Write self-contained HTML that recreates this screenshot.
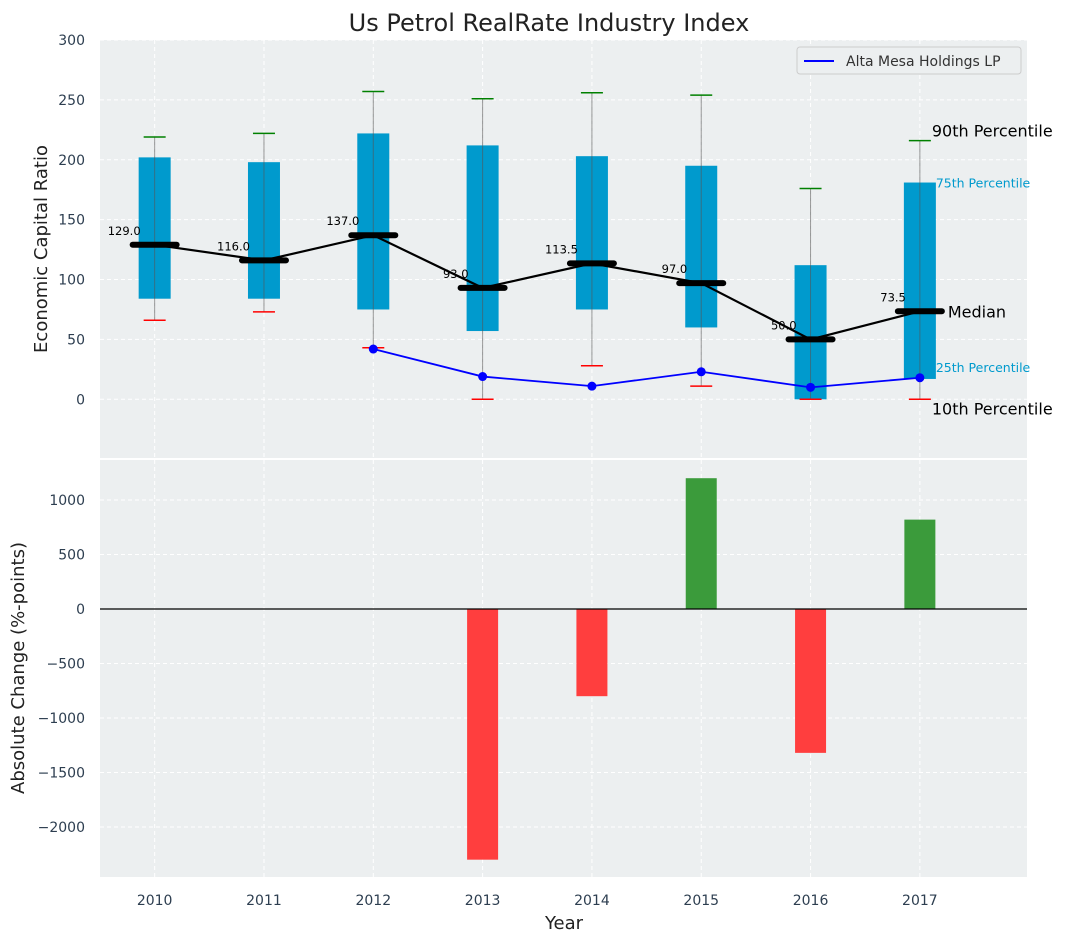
<!DOCTYPE html>
<html><head><meta charset="utf-8"><style>
body{margin:0;background:#fff;font-family:"Liberation Sans","DejaVu Sans",sans-serif}
svg text{font-family:"DejaVu Sans","Liberation Sans",sans-serif}
</style></head><body>
<svg id="c" width="1067" height="942" xmlns="http://www.w3.org/2000/svg"></svg>
<script>
const years=[2010,2011,2012,2013,2014,2015,2016,2017];
const p10=[66,73,43,0,28,11,0,0];
const q1=[84,84,75,57,75,60,0,17];
const med=[129,116,137,93,113.5,97,50,73.5];
const q3=[202,198,222,212,203,195,112,181];
const p90=[219,222,257,251,256,254,176,216];
const altaYears=[2012,2013,2014,2015,2016,2017];
const altaVals=[42,19,11,23,10,18];
const changeYears=[2013,2014,2015,2016,2017];
const changeVals=[-2300,-800,1200,-1320,820];
const topTicks=[0,50,100,150,200,250,300];
const botTicks=[-2000,-1500,-1000,-500,0,500,1000];

const svg=document.getElementById('c');const NS='http://www.w3.org/2000/svg';
function mk(t,a,txt,name){const e=document.createElementNS(NS,t);for(const k in a)e.setAttribute(k,a[k]);if(txt!=null)e.textContent=txt;


svg.appendChild(e);return e;}
const L=100,R=1027;
const X=v=>L+(v-2009.5)/(2017.98-2009.5)*(R-L);
const T0=40,T1=458,B0=460,B1=877;
const Y1=v=>T1-(v-(-49))/(300-(-49))*(T1-T0);
const Y2=v=>B1-(v-(-2459))/(1367-(-2459))*(B1-B0);
mk('rect',{x:L,y:T0,width:R-L,height:T1-T0,fill:'#eceff0'},null,'top-plot-area');
mk('rect',{x:L,y:B0,width:R-L,height:B1-B0,fill:'#eceff0'},null,'bottom-plot-area');
const g='stroke:#fff;stroke-dasharray:4,3;stroke-width:1';
years.forEach(y=>{mk('line',{x1:X(y),x2:X(y),y1:T0,y2:T1,style:g},null,'grid-x');mk('line',{x1:X(y),x2:X(y),y1:B0,y2:B1,style:g},null,'grid-x');
mk('text',{x:X(y),y:905,'font-size':14,fill:'#2d3e50','text-anchor':'middle'},y,'x-tick-label');});
topTicks.forEach(t=>{mk('line',{x1:L,x2:R,y1:Y1(t),y2:Y1(t),style:g},null,'grid-y');
mk('text',{x:85,y:Y1(t)+5,'font-size':14,fill:'#2d3e50','text-anchor':'end'},t,'y-tick-label');});
botTicks.forEach(t=>{mk('line',{x1:L,x2:R,y1:Y2(t),y2:Y2(t),style:g},null,'grid-y');
mk('text',{x:85,y:Y2(t)+5,'font-size':14,fill:'#2d3e50','text-anchor':'end'},(t<0?'\u2212':'')+Math.abs(t),'y-tick-label');});
const bw=32;
years.forEach((y,i)=>{const x=X(y);
mk('rect',{x:x-bw/2,y:Y1(q3[i]),width:bw,height:Y1(q1[i])-Y1(q3[i]),fill:'#009acd'},null,'iqr-box');
mk('line',{x1:x,x2:x,y1:Y1(p10[i]),y2:Y1(p90[i]),stroke:'#555','stroke-opacity':0.6,'stroke-width':1},null,'whisker');
mk('line',{x1:x-11,x2:x+11,y1:Y1(p90[i]),y2:Y1(p90[i]),stroke:'green','stroke-width':1.5},null,'p90-cap');
mk('line',{x1:x-11,x2:x+11,y1:Y1(p10[i]),y2:Y1(p10[i]),stroke:'red','stroke-width':1.5},null,'p10-cap');});
mk('polyline',{points:years.map((y,i)=>X(y)+','+Y1(med[i])).join(' '),fill:'none',stroke:'#000','stroke-width':2.2},null,'median-line');
years.forEach((y,i)=>{const x=X(y);
mk('line',{x1:x-22,x2:x+22,y1:Y1(med[i]),y2:Y1(med[i]),stroke:'#000','stroke-width':6,'stroke-linecap':'round'},null,'median-marker');
mk('text',{x:x-14,y:Y1(med[i])-10,'font-size':11.5,fill:'#000','text-anchor':'end'},med[i].toFixed(1),'median-label');});
mk('polyline',{points:altaYears.map((y,i)=>X(y)+','+Y1(altaVals[i])).join(' '),fill:'none',stroke:'blue','stroke-width':1.8},null,'alta-line');
altaYears.forEach((y,i)=>mk('circle',{cx:X(y),cy:Y1(altaVals[i]),r:4.5,fill:'blue'},null,'alta-point'));
const lx=X(2017);
mk('text',{x:lx+12,y:Y1(p90[7])-4,'font-size':16,fill:'#000'},'90th Percentile','p90-annotation');
mk('text',{x:lx+16,y:Y1(q3[7])+5,'font-size':12.5,fill:'#009acd'},'75th Percentile','q3-annotation');
mk('text',{x:lx+28,y:Y1(med[7])+6,'font-size':16,fill:'#000'},'Median','median-annotation');
mk('text',{x:lx+16,y:Y1(q1[7])-7,'font-size':12.5,fill:'#009acd'},'25th Percentile','q1-annotation');
mk('text',{x:lx+12,y:Y1(p10[7])+15,'font-size':16,fill:'#000'},'10th Percentile','p10-annotation');
changeYears.forEach((y,i)=>{const v=changeVals[i];
mk('rect',{x:X(y)-15.5,y:Math.min(Y2(v),Y2(0)),width:31,height:Math.abs(Y2(v)-Y2(0)),fill:v<0?'#ff3e3e':'#3b9b3b'},null,'change-bar');});
mk('line',{x1:L,x2:R,y1:Y2(0),y2:Y2(0),stroke:'#000','stroke-width':1.2},null,'zero-line');
mk('rect',{x:797,y:47,width:224,height:27,rx:3,fill:'#eceff0',stroke:'#ccc'},null,'legend');
mk('line',{x1:804,x2:834,y1:61,y2:61,stroke:'blue','stroke-width':2},null,'legend-swatch');
mk('text',{x:846,y:66,'font-size':14,fill:'#333'},'Alta Mesa Holdings LP','legend-label');
mk('text',{x:549,y:31,'font-size':24,fill:'#222','text-anchor':'middle'},'Us Petrol RealRate Industry Index','chart-title');
mk('text',{x:47,y:249,'font-size':18,fill:'#222','text-anchor':'middle',transform:'rotate(-90 47 249)'},'Economic Capital Ratio','top-y-axis-title');
mk('text',{x:24,y:668,'font-size':18,fill:'#222','text-anchor':'middle',transform:'rotate(-90 24 668)'},'Absolute Change (%-points)','bottom-y-axis-title');
mk('text',{x:564,y:929,'font-size':18,fill:'#222','text-anchor':'middle'},'Year','x-axis-title');
</script></body></html>
